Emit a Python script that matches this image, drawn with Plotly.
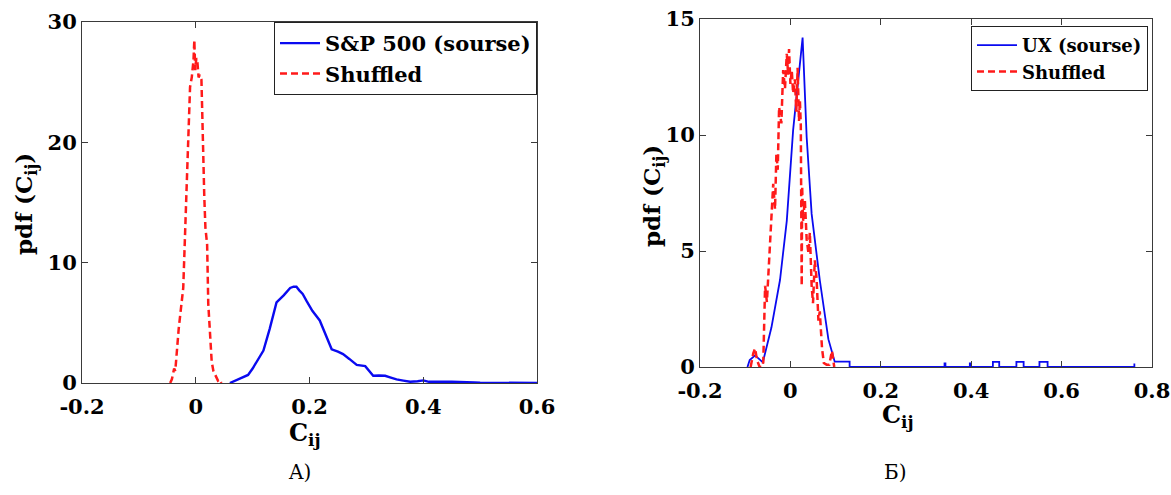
import plotly.graph_objects as go

W, H = 1171, 495

# ---------- Data ----------
# Panel A
sp_x = [0.060, 0.075, 0.092, 0.100, 0.110, 0.119, 0.130, 0.142, 0.155, 0.166, 0.172, 0.177, 0.182,
        0.188, 0.195, 0.205, 0.218, 0.230, 0.239, 0.250, 0.259, 0.270, 0.283, 0.298, 0.305, 0.312,
        0.322, 0.333, 0.343, 0.353, 0.365, 0.377, 0.390, 0.400, 0.410, 0.420, 0.435, 0.450, 0.476,
        0.490, 0.500, 0.550, 0.600]
sp_y = [0, 0.3, 0.67, 1.2, 2.0, 2.7, 4.5, 6.7, 7.3, 7.9, 8.0, 8.0, 7.7, 7.4, 6.8, 6.0, 5.2, 3.8,
        2.8, 2.6, 2.4, 2.0, 1.5, 1.4, 1.0, 0.6, 0.62, 0.6, 0.45, 0.3, 0.2, 0.1, 0.15, 0.22, 0.1,
        0.08, 0.1, 0.1, 0.1, 0.05, 0.03, 0.01, 0]
shA_x = [-0.045, -0.042, -0.038, -0.036, -0.030, -0.022, -0.016, -0.010, -0.007, -0.004, -0.0025,
         -0.001, 0.001, 0.003, 0.005, 0.007, 0.010, 0.012, 0.013, 0.015, 0.017, 0.020, 0.022, 0.025,
         0.028, 0.031, 0.034, 0.037, 0.039, 0.042, 0.045]
shA_y = [0, 0.3, 1.2, 1.0, 4.5, 7.9, 16.3, 24.6, 25.4, 26.8, 28.5, 26.0, 27.0, 26.6, 25.4, 25.6,
         25.2, 21.0, 17.7, 15.5, 12.9, 11.5, 6.6, 4.0, 1.8, 1.0, 0.7, 0.4, 0.2, 0.3, 0]

# Panel B
ux_x = [-0.095, -0.090, -0.078, -0.061, -0.042, -0.023, -0.008, 0.006, 0.027, 0.036, 0.047, 0.065,
        0.084, 0.098, 0.131, 0.131, 0.341, 0.341, 0.343, 0.343, 0.397, 0.397, 0.399, 0.399, 0.448,
        0.448, 0.462, 0.462, 0.500, 0.500, 0.516, 0.516, 0.551, 0.551, 0.569, 0.569, 0.761, 0.761]
ux_y = [0, 0.3, 0.5, 0.2, 1.7, 3.75, 6.3, 10.2, 14.2, 9.9, 6.6, 3.75, 1.2, 0.23, 0.23, 0, 0, 0.15,
        0.15, 0, 0, 0.15, 0.15, 0, 0, 0.22, 0.22, 0, 0, 0.22, 0.22, 0, 0, 0.22, 0.22, 0, 0, 0.15]
shB_x = [-0.088, -0.082, -0.078, -0.074, -0.068, -0.063, -0.060, -0.056, -0.052, -0.049, -0.045,
         -0.042, -0.038, -0.034, -0.031, -0.028, -0.025, -0.020, -0.016, -0.012, -0.008, -0.005,
         -0.003, 0.000, 0.003, 0.006, 0.010, 0.013, 0.016, 0.019, 0.021, 0.023, 0.025, 0.026,
         0.028, 0.032, 0.036, 0.040, 0.043, 0.047, 0.050, 0.054, 0.058, 0.062, 0.065, 0.070,
         0.074, 0.080, 0.086, 0.092, 0.095, 0.097]
shB_y = [0, 0.6, 0.8, 0.3, 0, 0, 0.2, 3.5, 2.8, 4.0, 5.5, 6.6, 7.9, 6.8, 9.2, 8.5, 11.2, 10.5,
         12.8, 12.0, 13.5, 12.6, 13.7, 12.2, 12.8, 11.8, 12.4, 11.0, 12.9, 10.6, 11.5, 10.4, 3.5,
         7.8, 6.3, 7.2, 5.5, 4.9, 5.8, 3.5, 2.75, 4.6, 3.8, 2.0, 2.4, 0.8, 0.17, 0.1, 0.1, 0.7,
         0.3, 0]

xA_ticks = [-0.2, 0, 0.2, 0.4, 0.6]
xA_text = ["-0.2", "0", "0.2", "0.4", "0.6"]
yA_ticks = [0, 10, 20, 30]
xB_ticks = [-0.2, 0, 0.2, 0.4, 0.6, 0.8]
xB_text = ["-0.2", "0", "0.2", "0.4", "0.6", "0.8"]
yB_ticks = [0, 5, 10, 15]

BLUE = "#0a0af0"
RED = "#ff1a1a"
FONT = "DejaVu Serif"
AXC = "#3a3a3a"

fig = go.Figure()
fig.add_trace(go.Scatter(x=sp_x, y=sp_y, mode="lines", name="S&P 500 (sourse)",
                         line=dict(color=BLUE, width=2.4), xaxis="x", yaxis="y", legend="legend"))
fig.add_trace(go.Scatter(x=shA_x, y=shA_y, mode="lines", name="Shuffled",
                         line=dict(color=RED, width=2.5, dash="7px,4px"), xaxis="x", yaxis="y",
                         legend="legend"))
fig.add_trace(go.Scatter(x=ux_x, y=ux_y, mode="lines", name="UX (sourse)",
                         line=dict(color=BLUE, width=1.8), xaxis="x2", yaxis="y2", legend="legend2"))
fig.add_trace(go.Scatter(x=shB_x, y=shB_y, mode="lines", name="Shuffled",
                         line=dict(color=RED, width=2.5, dash="7px,4px"), xaxis="x2", yaxis="y2",
                         legend="legend2"))

tickfont = dict(family=FONT, size=21, color="black", weight="bold")
axcommon = dict(showgrid=False, zeroline=False, showline=True, linecolor=AXC, linewidth=1,
                mirror="ticks", ticks="inside", ticklen=6, tickcolor=AXC, tickfont=tickfont,
                automargin=False)

fig.update_layout(
    width=W, height=H, margin=dict(l=0, r=0, t=0, b=0, autoexpand=False),
    paper_bgcolor="white", plot_bgcolor="white",
    xaxis=dict(domain=[82 / W, 537 / W], range=[-0.2, 0.6], tickvals=xA_ticks, ticktext=xA_text,
               anchor="y", ticklabelstandoff=5, **axcommon),
    yaxis=dict(domain=[1 - 383 / H, 1 - 22 / H], range=[0, 30], tickvals=yA_ticks, anchor="x",
               **axcommon),
    xaxis2=dict(domain=[700 / W, 1152 / W], range=[-0.2, 0.8], tickvals=xB_ticks, ticktext=xB_text,
                anchor="y2", ticklabelstandoff=5, **axcommon),
    yaxis2=dict(domain=[1 - 367 / H, 1 - 19 / H], range=[0, 15], tickvals=yB_ticks, anchor="x2",
                **axcommon),
    legend=dict(x=537 / W, y=1 - 22 / H, xanchor="right", yanchor="top", bgcolor="white",
                bordercolor="#222", borderwidth=1, tracegroupgap=0, itemwidth=40,
                font=dict(family=FONT, size=21, color="black", weight="bold")),
    legend2=dict(x=1148 / W, y=1 - 26 / H, xanchor="right", yanchor="top", bgcolor="white",
                 bordercolor="#222", borderwidth=1, tracegroupgap=0, itemwidth=40,
                 font=dict(family=FONT, size=18, color="black", weight="bold")),
    showlegend=True,
)

def ann(text, x, y, size, bold=True, angle=0):
    fig.add_annotation(text=text, x=x / W, y=1 - y / H, xref="paper", yref="paper",
                       showarrow=False, textangle=angle, xanchor="center", yanchor="middle",
                       font=dict(family=FONT, size=size, color="black",
                                 weight="bold" if bold else "normal"))

ann("C<sub>ij</sub>", 305, 434, 24)
ann("C<sub>ij</sub>", 898, 416, 24)
ann("pdf (C<sub>ij</sub>)", 25, 204, 23, angle=-90)
ann("pdf (C<sub>ij</sub>)", 653, 196, 23, angle=-90)
ann("A)", 300, 472, 20, bold=False)
ann("Б)", 895, 472, 20, bold=False)

fig.write_html("out.html")
